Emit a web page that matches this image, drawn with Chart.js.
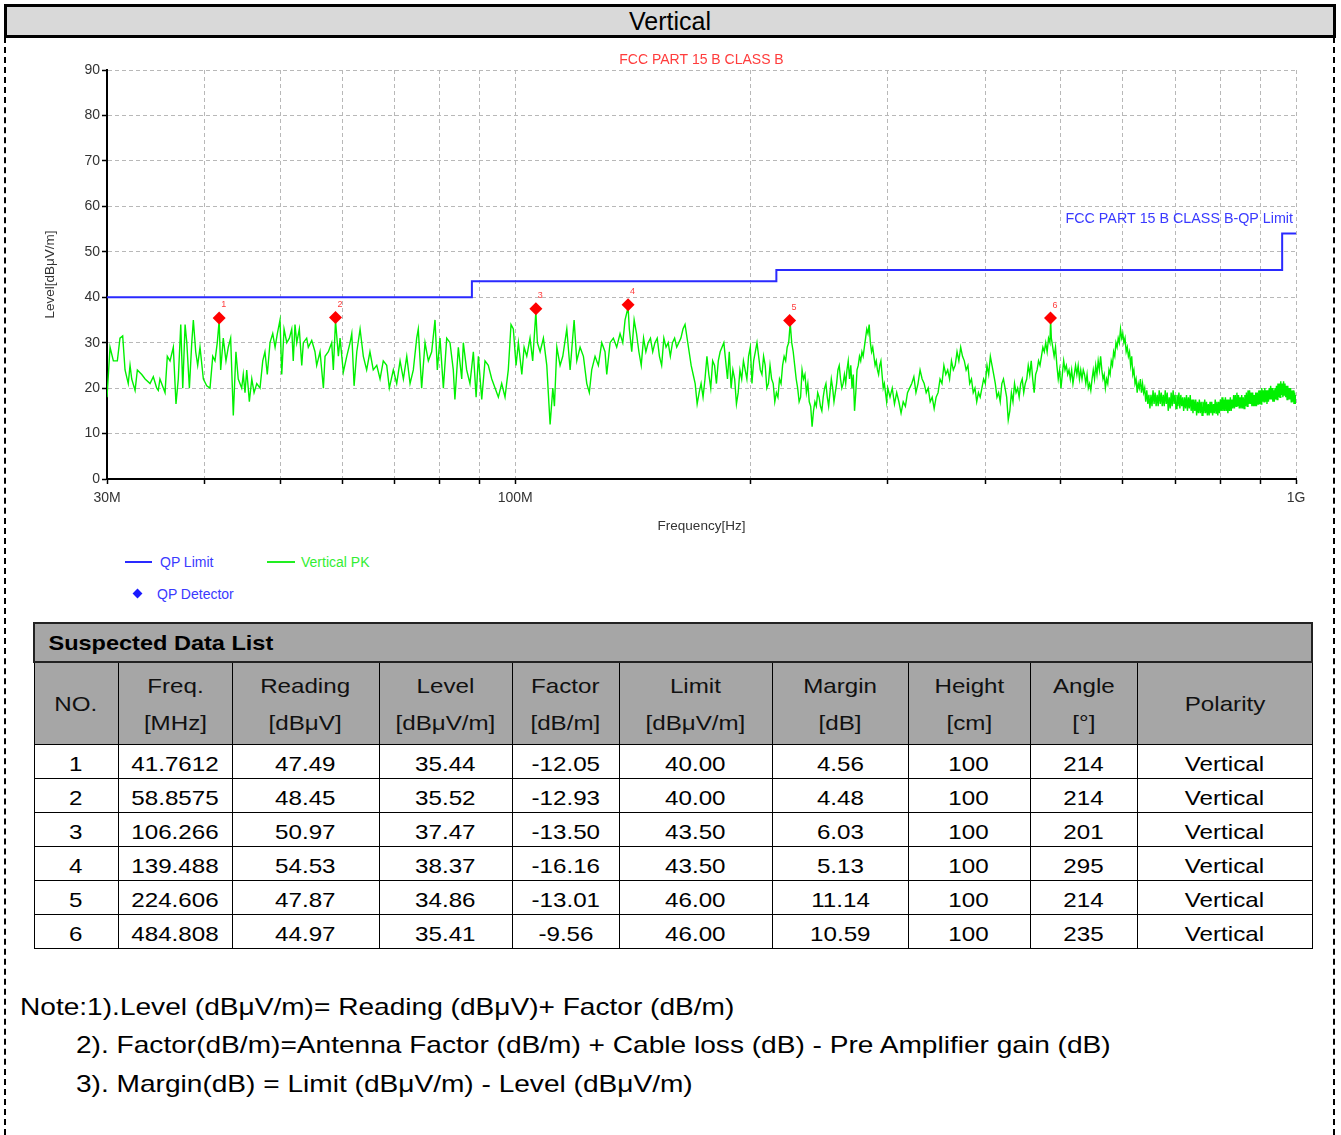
<!DOCTYPE html>
<html>
<head>
<meta charset="utf-8">
<script src="https://cdn.jsdelivr.net/npm/chart.js@4.4.1/dist/chart.umd.min.js"></script>
<style>
html,body{margin:0;padding:0;background:#fff;}
body{width:1341px;height:1135px;position:relative;overflow:hidden;font-family:'Liberation Sans',Arial,sans-serif;color:#000;}
#hdr{position:absolute;left:4px;top:4px;width:1326px;height:28px;border:3px solid #000;background:#d9d9d9;text-align:center;font-size:25px;line-height:29px;}
.side{position:absolute;top:37px;height:1098px;width:0;border-left:2px dashed #000;}
#cwrap{position:absolute;left:0;top:38px;width:1341px;height:507px;}
.lg{position:absolute;font-size:14px;line-height:16px;white-space:nowrap;}
.lgline{position:absolute;height:2px;}
#dia{position:absolute;left:134px;top:590px;width:7px;height:7px;background:#1a1aff;transform:rotate(45deg);}
#tbl{position:absolute;left:33px;top:622px;border-collapse:collapse;table-layout:fixed;width:1278px;}
#tbl td{border:1px solid #000;padding:0;text-align:center;font-size:21px;overflow:hidden;white-space:nowrap;}
#tbl tr.title td{background:#a6a6a6;height:37px;text-align:left;font-weight:bold;font-size:21px;border:2px solid #222;}
#tbl tr.head td{background:#a6a6a6;height:81px;line-height:37px;color:#111;}
#tbl tr.row td{height:33px;line-height:33px;}
#tbl tr.row .sx{position:relative;top:2px;}
.sx{display:inline-block;transform:scaleX(1.15);transform-origin:center;}
.sxl{display:inline-block;transform:scaleX(1.12);transform-origin:left center;padding-left:12px;}
.note{position:absolute;font-size:24px;line-height:28px;white-space:nowrap;transform:scaleX(1.17);transform-origin:left center;}
</style>
</head>
<body>
<div id="hdr">Vertical</div>
<div class="side" style="left:4px"></div>
<div class="side" style="left:1333px"></div>
<div id="cwrap"><canvas id="c" width="1341" height="507"></canvas></div>

<div class="lgline" style="left:125px;top:561px;width:27px;background:#2a2aff"></div>
<div class="lg" style="left:160px;top:554px;color:#3a3aff">QP Limit</div>
<div class="lgline" style="left:267px;top:561px;width:28px;background:#22ee22"></div>
<div class="lg" style="left:301px;top:554px;color:#33ee33">Vertical PK</div>
<div id="dia"></div>
<div class="lg" style="left:157px;top:586px;color:#3a3aff">QP Detector</div>

<table id="tbl"></table>

<div class="note" style="left:20px;top:993px">Note:1).Level (dBμV/m)= Reading (dBμV)+ Factor (dB/m)</div>
<div class="note" style="left:76px;top:1031px">2). Factor(dB/m)=Antenna Factor (dB/m) + Cable loss (dB) - Pre Amplifier gain (dB)</div>
<div class="note" style="left:76px;top:1070px">3). Margin(dB) = Limit (dBμV/m) - Level (dBμV/m)</div>

<script>
// ---------------- DATA ----------------
const chartTitle = 'FCC PART 15 B CLASS B';
const limitLabel = 'FCC PART 15 B CLASS B-QP Limit';
const xAxisTitle = 'Frequency[Hz]';
const yAxisTitle = 'Level[dBμV/m]';
const xTickValues = [30,40,50,60,70,80,90,100,200,300,400,500,600,700,800,900,1000];
const xTickLabels = {30:'30M',100:'100M',1000:'1G'};
const yTickMin = 0, yTickMax = 90, yTickStep = 10;

// QP limit (MHz, dBuV/m)
const limitFreq  = [30, 88, 88, 216, 216, 960, 960, 1000];
const limitLevel = [40, 40, 43.5, 43.5, 46, 46, 54, 54];

// QP detector points
const qpNo      = [1, 2, 3, 4, 5, 6];
const qpFreq    = [41.7612, 58.8575, 106.266, 139.488, 224.606, 484.808];
const qpReading = [47.49, 48.45, 50.97, 54.53, 47.87, 44.97];
const qpLevel   = [35.44, 35.52, 37.47, 38.37, 34.86, 35.41];
const qpFactor  = [-12.05, -12.93, -13.50, -16.16, -13.01, -9.56];
const qpLimit   = [40.00, 40.00, 43.50, 43.50, 46.00, 46.00];
const qpMargin  = [4.56, 4.48, 6.03, 5.13, 11.14, 10.59];
const qpHeight  = [100, 100, 100, 100, 100, 100];
const qpAngle   = [214, 214, 201, 295, 214, 235];
const qpPolarity= ['Vertical','Vertical','Vertical','Vertical','Vertical','Vertical'];

// Vertical PK trace, 30-140 MHz
const pkFreqA = [
30.00,30.27,30.57,30.93,31.17,31.42,31.64,31.94,32.11,32.27,
32.59,32.81,33.24,33.57,34.06,34.39,34.74,34.90,35.07,35.42,
35.60,35.84,36.13,36.48,36.77,37.02,37.29,37.51,37.77,37.96,
38.25,38.52,38.70,38.97,39.20,39.47,39.86,40.26,40.65,40.98,
41.25,41.53,41.76,41.95,42.27,42.61,42.90,43.20,43.54,43.88,
44.18,44.63,44.84,45.07,45.30,45.65,45.98,46.29,46.66,47.11,
47.49,47.80,48.13,48.52,48.91,49.25,49.58,49.97,50.23,50.57,
50.98,51.37,51.73,51.96,52.23,52.50,52.90,53.28,53.53,54.06,
54.32,54.87,55.40,55.68,56.23,56.79,57.07,57.63,58.20,58.48,
58.86,59.36,59.65,60.23,60.84,61.44,61.75,62.17,62.67,63.28,
63.89,64.52,65.15,65.79,66.47,67.12,67.76,68.45,68.98,69.80,
70.50,71.20,71.90,72.62,73.33,74.04,74.78,75.13,75.88,76.64,
77.39,78.16,78.93,79.47,80.10,80.90,81.70,82.50,83.30,83.70,
84.55,85.40,85.80,86.65,87.50,88.38,89.10,89.70,90.59,91.47,
92.36,93.31,94.22,95.14,96.08,97.03,97.97,98.76,99.44,100.24,
100.93,101.96,102.65,103.46,104.46,105.28,106.27,106.75,107.61,108.66,
109.75,110.83,111.72,112.25,113.05,114.14,115.05,116.42,117.57,118.96,
119.90,121.08,122.27,123.49,124.42,125.30,126.54,127.78,129.06,130.31,
130.98,132.27,133.55,134.88,136.22,137.32,138.25,139.49];
const pkLevelA = [
18,29,26,26,31,31.5,24,21,25,22,
19.5,24,23,22,21,22.5,20,19.5,22,20,
19,27,26,29,16.5,22,34,20,34,30,
20,30,35,28,25,29,22,20.5,20,27,
26,30,34.8,24,31,26,29,31,14,28,
22,20,23,19,24,17,22,19,21,20,
26,28,23,30,32,29,32,35,23,33,
30,31,33,26,34,30,33,25,30,31,
29,30.5,28,25,28,20,27,28,30,24,
34.8,27,31,23.5,27,30,32,20.5,28,33,
27,24,28,24,25,22,26,25,20,24,
21,26,22,27,21,24,31,33,20,30,
26,28,35,24,31,20,31,30,24,17.5,
29,22,30,24,21,28,18,27,17.5,26,
25,22,20,18,21,18,24,34,33,25,
30,23,29,27,31,26,36.8,30,28,31,
25,12,20,16,29,25,27,33,24,35,
26,29,27,21,19,24,27,25,30,28,
23,30,31,29,32,30,35,37.8];

// Vertical PK trace, 140-300 MHz
const pkFreqB = [
140,141,142,143,144,145,146,147,148,149,
150,151,152,153,154,155,156,157,158,159,
160,161,162,163,164,165,166,167,168,169,
170,171,172,173,174,175,176,177,178,179,
180,181,182,183,184,185,186,187,188,189,
190,191,192,193,194,195,196,197,198,199,
200,201,202,203,204,205,206,207,208,209,
210,211,212,213,214,215,216,217,218,219,
220,221,222,223,224,225,226,227,228,229,
230,231,232,233,234,235,236,237,238,239,
240,241,242,243,244,245,246,247,248,249,
250,251,252,253,254,255,256,257,258,259,
260,261,262,263,264,265,266,267,268,269,
270,271,272,273,274,275,276,277,278,279,
280,281,282,283,284,285,286,287,288,289,
290,291,292,293,294,295,296,297,298,299,
300];
const pkLevelB = [
33,28,35,32,28,25,31,28,30,31,
28,30,31,27,25,31,29,30,27,30,
31,29,30,31,33,34,31,28,25,23,
21,16.5,19,21,18,22,27,23,20,26,
25,21,26,28,29,30,26,22,28,20,
24,22,16.5,19,24,22,26,24,22,27,
29,21,26,28,30,27,24,23,27,25,
20,21,25,22,21,17,19,18,22,21,
25,27,26,29,30,34.3,30,28,25,22,
20,17,18,24,22,23,19,21,17,16,
11.5,15,17,16,19,18,16,15,18,20,
21,18,16,19,22,20,17,19,21,24,
25,22,20,21,23,21,24,26,22,25,
20,23,15,19,24,25,27,26,28,27,
29,31,33,32,34,30,28,29,27,25,
26,24,23,25,26,23,20,21,19,17,
20];

// Vertical PK trace, 300-1000 MHz
const pkFreqC = [
302,304,306,308,310,312,314,316,318,320,
322,324,326,328,330,332,334,336,338,340,
342,344,346,348,350,352,354,356,358,360,
362,364,366,368,370,372,374,376,378,380,
382,384,386,388,390,392,394,396,398,400,
402,404,406,408,410,412,414,416,418,420,
422,424,426,428,430,432,434,436,438,440,
442,444,446,448,450,452,454,456,458,460,
462,464,466,468,470,472,474,476,478,480,
482,484,485,486,488,490,492,494,496,498,500,
502,504,506,508,510,512,514,516,518,520,
522,524,526,528,530,532,534,536,538,540,
542,544,546,548,550,552,554,556,558,560,
562,564,566,568,570,572,574,576,578,580,
582,584,586,588,590,592,594,596,598,600,
602,604,606,608,610,612,614,616,618,620,
622,624,626,628,630,632,634,636,638,640,
642,644,646,648,650,652,654,656,658,660,
662,664,666,668,670,672,674,676,678,680,
682,684,686,688,690,692,694,696,698,700,
702,704,706,708,710,712,714,716,718,720,
722,724,726,728,730,732,734,736,738,740,
742,744,746,748,750,752,754,756,758,760,
762,764,766,768,770,772,774,776,778,780,
782,784,786,788,790,792,794,796,798,800,
802,804,806,808,810,812,814,816,818,820,
822,824,826,828,830,832,834,836,838,840,
842,844,846,848,850,852,854,856,858,860,
862,864,866,868,870,872,874,876,878,880,
882,884,886,888,890,892,894,896,898,900,
902,904,906,908,910,912,914,916,918,920,
922,924,926,928,930,932,934,936,938,940,
942,944,946,948,950,952,954,956,958,960,
962,964,966,968,970,972,974,976,978,980,
982,984,986,988,990,992,994,996,998,1000];
const pkLevelC = [
18,20,16.5,19,17,14.5,17,16,19,20,
21,22.5,19,21,24,22,21,19,20,17,
18,15.5,18,19,22,21,25,23,24,22,
26,24,25,28,26,29,27,26,24,25,
21,22,19,20,17,19,18,20,22,21,
25,23,27,25,23,21,18,19,17,21,
22,20,18,13,15,19,17,21,19,20,
18,21,22,19,21,22,25,23,26,22,
19,23,24,26,25,27,29,28,30,28,
31,30,35,31,29,27,29,25,22,24,20,
23,26,24,25,23,24,22,24,21,23,
25,23,25,22,24,22,24,23,21,23,
20,21,19.5,22,24,22,25,23,26,24,
27,24,22,23,20,22,21,24,23,26,
25,28,27,30,29,31,30,33,31,32,
30,31,28,29,27,28,25,27,23,24,
21,22,19,21,20,22,19,21,19,20,
17,19.5,16.5,18.5,15.5,18.5,16,19.5,16.5,19,
16,18.5,16,19.5,16.5,19,16,18.5,16,19.5,
16.5,19,15,18,15.5,19,16,19.5,16.5,18.5,
15.5,18.5,16,19,15.5,18.5,16,18,15,18,
15.5,18.5,15,18,15.5,18.5,15,17.5,14.5,17.5,
15,17.5,14,17,14.5,17.5,14.5,17,14,17,
14.5,17.5,14.5,17,14,16.5,14,17,14.5,17,
14,16.5,14.5,17.5,14.5,17,14,17,14.5,17.5,
15,18,15,17.5,15,18,15,17.5,14.5,17.5,
15,18,15,17.5,15.5,18.5,15.5,18.5,16,19,
16,18.5,15.5,18,15.5,18.5,15.5,18,15.5,18.5,
16,19,16,19.5,16.5,19.5,16.5,19,16,19,
16,18.5,16,19,16,19,16.5,19.5,16.5,19.5,
16.5,20,17,19.5,17,20,17,19.5,16.5,19.5,
17,20,17.5,20.5,17.5,20,17,19.5,17,20,
17.5,20.5,17.5,21,18,21,18,21.5,18.5,21,
18,21.5,18.5,21,18,20.5,17.5,20.5,17.5,20,
17.5,20,17,19.5,17,19.5,16.5,19,16.5,18.5];

// Table header
const tableTitle = 'Suspected Data List';
const tableHeads = ['NO.', 'Freq.|[MHz]', 'Reading|[dBμV]', 'Level|[dBμV/m]', 'Factor|[dB/m]', 'Limit|[dBμV/m]', 'Margin|[dB]', 'Height|[cm]', 'Angle|[°]', 'Polarity'];
const colWidths = [84, 114, 147, 133, 107, 153, 136, 122, 107, 175];

// ---------------- TABLE ----------------
(function(){
  const t = document.getElementById('tbl');
  let h = '<colgroup>' + colWidths.map(w => '<col style="width:' + w + 'px">').join('') + '</colgroup>';
  h += '<tr class="title"><td colspan="10"><span class="sxl">' + tableTitle + '</span></td></tr>';
  h += '<tr class="head">' + tableHeads.map(s => '<td><span class="sx">' + s.split('|').join('<br>') + '</span></td>').join('') + '</tr>';
  for (let i = 0; i < qpNo.length; i++) {
    const cells = [String(qpNo[i]), String(qpFreq[i]), qpReading[i].toFixed(2), qpLevel[i].toFixed(2), qpFactor[i].toFixed(2),
      qpLimit[i].toFixed(2), qpMargin[i].toFixed(2), String(qpHeight[i]), String(qpAngle[i]), qpPolarity[i]];
    h += '<tr class="row">' + cells.map(c => '<td><span class="sx">' + c + '</span></td>').join('') + '</tr>';
  }
  t.innerHTML = h;
})();

// ---------------- CHART ----------------
const toPts = (fx, ly) => fx.map((f, i) => ({x: f, y: ly[i]}));
const pkPoints = [].concat(toPts(pkFreqA, pkLevelA), toPts(pkFreqB, pkLevelB), toPts(pkFreqC, pkLevelC));

const FONT = "'Liberation Sans', Arial, sans-serif";
Chart.defaults.font.family = FONT;

const annot = {
  id: 'annot',
  afterDatasetsDraw(chart) {
    const {ctx, chartArea: ca, scales: {x, y}} = chart;
    ctx.save();
    ctx.textBaseline = 'middle';
    ctx.fillStyle = '#ff3c3c';
    ctx.font = '14px ' + FONT;
    ctx.textAlign = 'center';
    ctx.fillText(chartTitle, (ca.left + ca.right) / 2, ca.top - 10);
    ctx.fillStyle = '#3a3aff';
    ctx.font = '14.3px ' + FONT;
    ctx.textAlign = 'right';
    ctx.fillText(limitLabel, x.getPixelForValue(limitFreq[limitFreq.length - 1]) - 3,
                 y.getPixelForValue(limitLevel[limitLevel.length - 1]) - 15);
    const meta = chart.getDatasetMeta(0);
    ctx.fillStyle = '#ff3c3c';
    ctx.font = '9px ' + FONT;
    ctx.textAlign = 'left';
    meta.data.forEach((pt, i) => ctx.fillText(String(qpNo[i]), pt.x + 2, pt.y - 13));
    ctx.restore();
  }
};

const gridOpts = {color: '#b8b8b8', lineWidth: 1, tickLength: 5, tickColor: '#000', tickWidth: 1.5, tickBorderDash: []};
const borderOpts = {display: true, color: '#000', width: 2, dash: [4, 3]};

new Chart(document.getElementById('c'), {
  type: 'line',
  data: {datasets: [
    {label: 'QP Detector', data: toPts(qpFreq, qpLevel), showLine: false, pointStyle: 'rectRot',
     pointRadius: 6.5, pointHoverRadius: 6.5, pointBackgroundColor: '#ff0000', pointBorderColor: '#ff0000', pointBorderWidth: 0},
    {label: 'QP Limit', data: toPts(limitFreq, limitLevel), borderColor: '#2a2aff', borderWidth: 2, pointRadius: 0, tension: 0},
    {label: 'Vertical PK', data: pkPoints, borderColor: '#00f000', borderWidth: 1.4, pointRadius: 0, tension: 0}
  ]},
  options: {
    responsive: false, animation: false, events: [],
    layout: {padding: {top: 32, right: 45, left: 0, bottom: 0}},
    plugins: {legend: {display: false}, tooltip: {enabled: false}, title: {display: false}},
    scales: {
      x: {type: 'logarithmic', min: xTickValues[0], max: xTickValues[xTickValues.length - 1],
        afterBuildTicks: s => { s.ticks = xTickValues.map(v => ({value: v})); },
        afterFit: s => { s.height = 66; },
        ticks: {autoSkip: false, maxRotation: 0, minRotation: 0, padding: 6, color: '#333', font: {size: 14},
                callback: v => xTickLabels[v] || ''},
        grid: gridOpts, border: borderOpts,
        title: {display: true, text: xAxisTitle, color: '#333', font: {size: 13.5}, padding: {top: 0, bottom: 11}}},
      y: {min: yTickMin, max: yTickMax,
        afterFit: s => { s.width = 107; },
        ticks: {stepSize: yTickStep, padding: 2, color: '#333', font: {size: 14}},
        grid: gridOpts, border: borderOpts,
        title: {display: true, text: yAxisTitle, color: '#333', font: {size: 13.5}, padding: {top: 42, bottom: 0}}}
    }
  },
  plugins: [annot]
});
</script>
</body>
</html>
